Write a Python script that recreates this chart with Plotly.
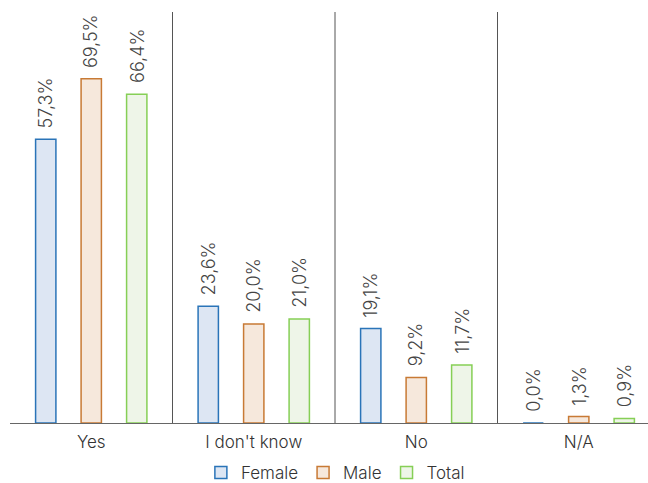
import plotly.graph_objects as go

categories = ["Yes", "I don't know", "No", "N/A"]
female = [57.3, 23.6, 19.1, 0.0]
male = [69.5, 20.0, 9.2, 1.3]
total = [66.4, 21.0, 11.7, 0.9]

series = [
    ("Female", female, "#dde6f3", "#2a74b8"),
    ("Male", male, "#f6e8dc", "#c87a35"),
    ("Total", total, "#eef5e8", "#86cf56"),
]

def fmt(v):
    return f"{v:.1f}%".replace(".", ",")

slot = 0.28
bar_w = 0.125
fig = go.Figure()
for i, (name, vals, fill, line) in enumerate(series):
    off = (i - 1) * slot - bar_w / 2
    fig.add_trace(go.Bar(
        name=name, x=list(range(len(categories))), y=vals,
        width=bar_w, offset=off,
        marker=dict(color=fill, line=dict(color=line, width=1.5)),
    ))
    for j, v in enumerate(vals):
        fig.add_annotation(
            x=j + (i - 1) * slot, y=v, text=fmt(v), textangle=-90,
            showarrow=False, yanchor="bottom", xanchor="center", yshift=9,
            font=dict(size=18, color="#444", family="Inter", weight=300),
        )

# category separators
for b in [0.5, 1.5, 2.5]:
    fig.add_shape(type="line", x0=b, x1=b, y0=0, y1=1, yref="paper",
                  line=dict(color="#555", width=1))

fig.update_layout(
    width=648, height=483,
    margin=dict(l=10, r=0, t=12, b=60, autoexpand=False),
    plot_bgcolor="white", paper_bgcolor="white",
    barmode="overlay",
    font=dict(family="Inter", size=17, color="#333", weight=300),
    showlegend=True,
    legend=dict(orientation="h", x=0.51, xanchor="center", y=-0.078, yanchor="top",
                font=dict(size=17, color="#333", weight=300), itemwidth=30,
                traceorder="normal"),
    xaxis=dict(
        tickmode="array", tickvals=list(range(len(categories))), ticktext=categories,
        range=[-0.5, 3.5 - 12 / 162.5], showgrid=False, zeroline=False,
        showline=True, linecolor="#666", linewidth=1, ticks="", ticklabelstandoff=4,
        tickfont=dict(size=17, color="#333", weight=300),
    ),
    yaxis=dict(range=[0, 83], visible=False, showgrid=False, zeroline=False),
)

fig.write_html("out.html")
